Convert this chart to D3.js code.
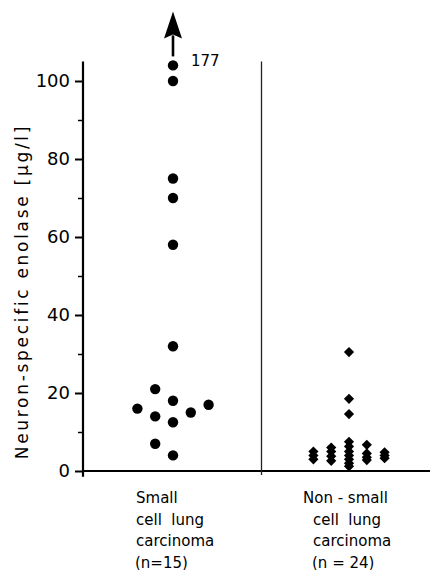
<!DOCTYPE html>
<html>
<head>
<meta charset="utf-8">
<script src="https://cdn.jsdelivr.net/npm/d3@7"></script>
<style>
  body { margin: 0; background: #fff; }
  text { font-family: "DejaVu Sans", sans-serif; fill: #000; }
</style>
</head>
<body>
<svg width="430" height="570"></svg>
<script>
// data
const groups = ['sclc', 'nsclc'];
const groupLines = [
  ['Small', 'cell  lung', 'carcinoma', '(n=15)'],
  ['Non - small', 'cell  lung', 'carcinoma', '(n = 24)']
];

// small cell lung carcinoma, µg/l (177 is off scale)
const sclcValues = [177, 100, 75, 70, 58, 32, 21, 18, 16, 14, 12.5, 15, 17, 7, 4];
const sclcLane   = [0, 0, 0, 0, 0, 0, -1, 0, -2, -1, 0, 1, 2, -1, 0];

// non-small cell lung carcinoma, µg/l
const nsclcValues = [30.5, 18.5, 14.6, 7.5, 6.3, 5, 4, 3, 2, 1.2,
                     5, 4, 3,
                     6, 5, 3.8, 2.6,
                     6.7, 4.5, 3.5, 2.8,
                     4.8, 4, 3.3];
const nsclcLane   = [0, 0, 0, 0, 0, 0, 0, 0, 0, 0,
                     -2, -2, -2,
                     -1, -1, -1, -1,
                     1, 1, 1, 1,
                     2, 2, 2];

const majorTicks = [0, 20, 40, 60, 80, 100];
const minorTicks = [10, 30, 50, 70, 90];
const yMax = 100;
const capValue = 104; // where off-scale value is drawn

const svg = d3.select('svg');

const y = d3.scaleLinear().domain([0, yMax]).range([471, 81]);
const x = d3.scalePoint().domain(groups).range([173, 349]);
const lane = d3.scaleLinear().domain([-1, 1]).range([-17.8, 17.8]);
const axisX = 83;
const rightEdge = 430;

// y axis
const yAxis = svg.append('g')
    .attr('transform', `translate(${axisX},0)`)
    .call(d3.axisLeft(y).tickValues(majorTicks).tickSize(8).tickPadding(5).tickFormat(d3.format('d')));
yAxis.select('.domain').remove();
yAxis.selectAll('line').attr('stroke', '#000').attr('stroke-width', 2);
yAxis.selectAll('text')
    .style('font-size', '18px')
    .style('font-family', '"DejaVu Sans", sans-serif');

const yMinor = svg.append('g')
    .attr('transform', `translate(${axisX},0)`)
    .call(d3.axisLeft(y).tickValues(minorTicks).tickSize(5).tickFormat(''));
yMinor.select('.domain').remove();
yMinor.selectAll('line').attr('stroke', '#000').attr('stroke-width', 1.5);

svg.append('line')
    .attr('x1', axisX).attr('x2', axisX)
    .attr('y1', y(105)).attr('y2', y(-1.5))
    .attr('stroke', '#000').attr('stroke-width', 2.2);

// x baseline
svg.append('line')
    .attr('x1', axisX).attr('x2', rightEdge)
    .attr('y1', y(0)).attr('y2', y(0))
    .attr('stroke', '#000').attr('stroke-width', 2.2);

// divider between groups
const midX = (x('sclc') + x('nsclc')) / 2 + 0.5;
svg.append('line')
    .attr('x1', midX).attr('x2', midX)
    .attr('y1', y(105)).attr('y2', y(-1))
    .attr('stroke', '#222').attr('stroke-width', 1.3);

// y label
svg.append('text')
    .attr('transform', `translate(28,${y(46)}) rotate(-90)`)
    .attr('text-anchor', 'middle')
    .style('font-size', '17px')
    .style('letter-spacing', '2.7px')
    .text('Neuron-specific enolase [µg/l]');

// small cell dots
const sclc = sclcValues.map((v, i) => ({ v, lane: sclcLane[i] }));
svg.append('g').selectAll('circle')
  .data(sclc)
  .join('circle')
    .attr('cx', d => x('sclc') + lane(d.lane))
    .attr('cy', d => y(Math.min(d.v, capValue)))
    .attr('r', 5.2)
    .attr('fill', '#000');

// arrow + label for off-scale value
const off = sclc.filter(d => d.v > yMax)[0];
const ay = y(capValue);
const ax = x('sclc');
svg.append('line')
    .attr('x1', ax).attr('x2', ax)
    .attr('y1', ay - 9).attr('y2', ay - 30)
    .attr('stroke', '#000').attr('stroke-width', 2.6);
svg.append('path')
    .attr('d', `M${ax},${ay - 54} L${ax - 9},${ay - 27} L${ax},${ay - 31} L${ax + 9},${ay - 27} Z`)
    .attr('fill', '#000');
svg.append('text')
    .attr('x', ax + 18)
    .attr('y', ay + 1)
    .style('font-size', '15px')
    .text(off.v);

// non-small cell diamonds
const nsclc = nsclcValues.map((v, i) => ({ v, lane: nsclcLane[i] }));
svg.append('g').selectAll('path')
  .data(nsclc)
  .join('path')
    .attr('d', d3.symbol().type(d3.symbolSquare).size(52))
    .attr('transform', d => `translate(${x('nsclc') + lane(d.lane)},${y(d.v)}) rotate(45)`)
    .attr('fill', '#000');

// group labels
const labelOffsets = [[-37, -37, -37, -38], [-46, -36, -36, -37]];
groups.forEach((g, gi) => {
  svg.append('g').selectAll('text')
    .data(groupLines[gi])
    .join('text')
      .attr('x', (d, i) => x(g) + labelOffsets[gi][i])
      .attr('y', (d, i) => 503 + i * 21.5)
      .style('font-size', '15px')
      .style('white-space', 'pre')
      .attr('xml:space', 'preserve')
      .text(d => d);
});
</script>
</body>
</html>
